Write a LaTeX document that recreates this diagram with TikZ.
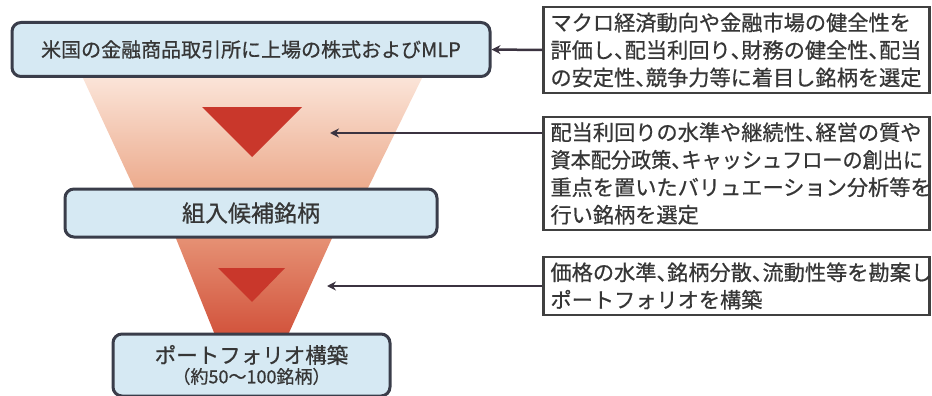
\documentclass[tikz,border=0pt]{standalone}
\usepackage{graphicx}
\usepackage{fontspec}
\setmainfont[FakeBold=0.7]{Noto Sans CJK JP}
\usetikzlibrary{arrows.meta}
\definecolor{boxfill}{HTML}{D6E9F3}
\definecolor{boxline}{HTML}{3A3D4A}
\definecolor{rline}{HTML}{404040}
\definecolor{txt}{HTML}{363636}
\definecolor{arrowc}{HTML}{3B3340}
\definecolor{funA}{HTML}{FBE5D9}
\definecolor{funB}{HTML}{ECAA8C}
\definecolor{funC}{HTML}{E69275}
\definecolor{funD}{HTML}{D2533C}
\definecolor{tri}{HTML}{C9372B}
\newcommand\tcm{\makebox[0.5em][l]{、}}
\begin{document}
\begin{tikzpicture}[x=1pt,y=-1pt,
  lbox/.style={draw=boxline, line width=3pt, rounded corners=9pt, fill=boxfill, text=txt, inner sep=0pt, align=center},
  rbox/.style={draw=rline, line width=2.5pt, fill=white, text=txt, inner xsep=0pt, inner ysep=0pt, align=left, text width=386pt, font=\fontsize{21.2}{27.5}\selectfont},
  conn/.style={draw=arrowc, line width=2.5pt, -{Stealth[length=9pt,width=9pt]}}
]
\useasboundingbox (0,0) rectangle (932,396);
% funnel
\shade[top color=funA, bottom color=funB] (82,76) -- (423,76) -- (367,190) -- (135,190) -- cycle;
\shade[top color=funC, bottom color=funD] (175,236) -- (333,236) -- (288,335) -- (215,335) -- cycle;
\fill[tri] (202,107) -- (302,107) -- (252,157) -- cycle;
\fill[tri] (218,268) -- (285,268) -- (252,302) -- cycle;
% left boxes
\node[lbox, minimum width=478pt, minimum height=54pt, font=\fontsize{20}{24}\selectfont] (src) at (251,49.5) {米国の金融商品取引所に上場の株式およびMLP};
\node[lbox, minimum width=372pt, minimum height=48pt, font=\fontsize{23}{27}\selectfont] (cand) at (251,213) {組入候補銘柄};
\node[lbox, minimum width=277pt, minimum height=62pt, font=\fontsize{21.5}{21}\selectfont] (pf) at (251.5,365) {ポートフォリオ構築\\[-1pt]{\fontsize{18}{21}\selectfont （約50～100銘柄）}};
% right boxes
\node[rbox, minimum height=86pt] (r1) at (736.5,50) {\hspace*{7pt}マクロ経済動向や金融市場の健全性を\\\hspace*{7pt}評価し\tcm 配当利回り\tcm 財務の健全性\tcm 配当\\\hspace*{7pt}の安定性\tcm 競争力等に着目し銘柄を選定};
\node[rbox, minimum height=113pt] (r2) at (736.5,173.5) {\hspace*{7pt}配当利回りの水準や継続性\tcm 経営の質や\\\hspace*{7pt}\scalebox{0.95}[1]{資本配分政策\tcm キャッシュフローの創出に}\\\hspace*{7pt}重点を置いたバリュエーション分析等を\\\hspace*{7pt}行い銘柄を選定};
\node[rbox, minimum height=58pt] (r3) at (736.5,286) {\hspace*{7pt}価格の水準\tcm 銘柄分散\tcm 流動性等を勘案し\\\hspace*{7pt}ポートフォリオを構築};
% connectors
\coordinate (c2) at (330,133);
\coordinate (c3) at (327,286);
\draw[conn] (r1.west) -- (src.east);
\draw[conn] (r2.west |- c2) -- (c2);
\draw[conn] (r3.west) -- (c3);
\end{tikzpicture}
\end{document}
